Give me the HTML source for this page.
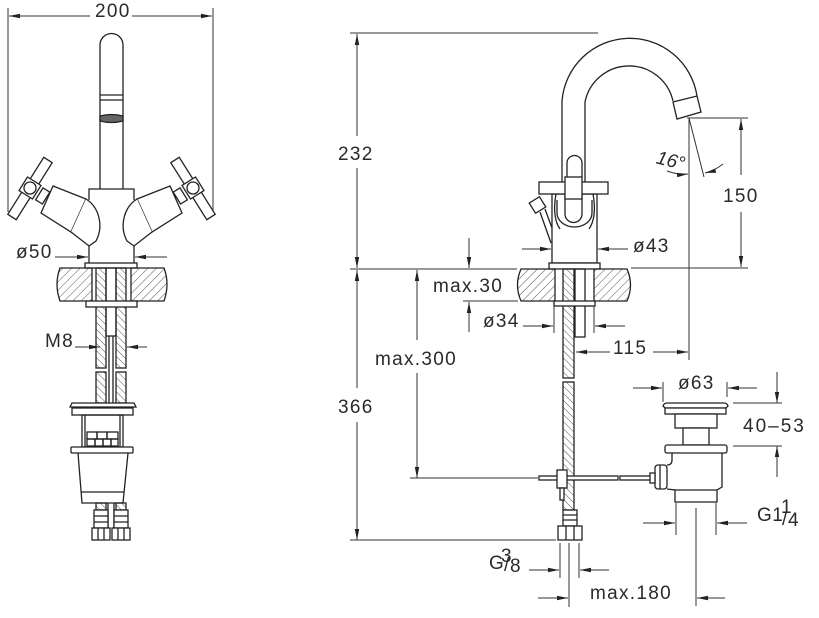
<!DOCTYPE html>
<html><head><meta charset="utf-8">
<style>
html,body{margin:0;padding:0;background:#fff;}
svg{display:block;}
text{font-family:"Liberation Sans",sans-serif;font-size:19px;fill:#2a2a2a;letter-spacing:1.3px;}
</style></head><body>
<svg width="819" height="618" viewBox="0 0 819 618" xmlns="http://www.w3.org/2000/svg">
<defs>
<marker id="a" markerWidth="11" markerHeight="5" refX="11" refY="2.5" orient="auto" markerUnits="userSpaceOnUse"><path d="M0,0.3 L11,2.5 L0,4.7 z" fill="#222"/></marker>
<pattern id="h" width="6" height="6" patternUnits="userSpaceOnUse" patternTransform="rotate(45)"><line x1="0" y1="0" x2="0" y2="6" stroke="#555" stroke-width="1"/></pattern>
<pattern id="h2" width="5" height="5" patternUnits="userSpaceOnUse" patternTransform="rotate(-45)"><line x1="0" y1="0" x2="0" y2="5" stroke="#555" stroke-width="1"/></pattern>
</defs>
<rect width="819" height="618" fill="#fff"/>

<!-- ================= LEFT FAUCET ================= -->
<g fill="none" stroke="#222" stroke-width="1.3">
  <path d="M100,189 L100,45 A11.5,11.5 0 0 1 123,45 L123,189"/>
  <line x1="100" y1="95" x2="123" y2="95"/>
  <line x1="100" y1="100" x2="123" y2="100"/>
  <path d="M100,116 Q111.5,113 123,116 L123,121 Q111.5,124 100,121 Z" fill="#666"/>
  <path d="M89,200 L89,189 L134,189 L134,200"/>
  <path d="M89,245 L89,263 M134,245 L134,263"/>
  <rect x="85" y="263" width="52" height="5" fill="#fff"/>
  <g id="lh">
    <polygon points="7.8,214.3 16.2,219.7 52.2,162.7 43.8,157.3" fill="#fff"/>
    <polygon points="32.5,199 41,185.5 27.5,177 19,190.5" fill="#fff"/>
    <circle cx="30" cy="188" r="6" fill="#fff"/>
    <polygon points="43,187.9 49.8,192.1 42.4,204 35.6,199.8" fill="#fff"/>
    <polygon points="53,186 86,199 71,232 41,213" fill="#fff"/>
    <path d="M86,199 C99,207 104,226 96,241 L89,246 L71,232" fill="#fff"/>
  </g>
  <use href="#lh" transform="translate(223,0) scale(-1,1)"/>

  <path d="M92,268 L60,268 Q54,284 60,301 L92,301 Z" fill="url(#h)"/>
  <path d="M131,268 L164,268 Q170,284 164,301 L131,301 Z" fill="url(#h)"/>
  <rect x="96" y="268" width="10" height="100" fill="url(#h2)"/>
  <rect x="96" y="372" width="10" height="31" fill="url(#h2)"/>
  <rect x="116" y="268" width="10" height="100" fill="url(#h2)"/>
  <rect x="116" y="372" width="10" height="31" fill="url(#h2)"/>
  <rect x="106" y="268" width="10" height="68"/>
  <path d="M109,336 L109,403 M113,336 L113,403"/>
  <rect x="86" y="301" width="51" height="6" fill="#fff"/>

  <path d="M70,407 L72,403 L134,403 L136,407 Z" fill="#fff"/>
  <rect x="72" y="408" width="61" height="7" fill="#fff"/>
  <rect x="82" y="415" width="41" height="32"/>
  <path d="M85,415 L85,447 M120,415 L120,447"/>
  <rect x="87" y="432" width="10" height="7"/><rect x="97" y="432" width="10" height="7"/><rect x="107" y="432" width="11" height="7"/>
  <rect x="87" y="439" width="8" height="7"/><rect x="95" y="439" width="8" height="7"/><rect x="103" y="439" width="8" height="7"/><rect x="111" y="439" width="7" height="7"/>
  <rect x="71" y="447" width="62" height="6" rx="1" fill="#fff"/>
  <path d="M78,453 L82,503 L123,503 L128,453"/>
  <line x1="81" y1="492" x2="124" y2="492"/>
  <rect x="96" y="503" width="10" height="7" fill="url(#h2)"/>
  <rect x="116" y="503" width="10" height="7" fill="url(#h2)"/>
  <path d="M108,503 L108,528 M114,503 L114,528"/>
  <rect x="94" y="510" width="14" height="18" fill="#fff"/>
  <rect x="114" y="510" width="14" height="18" fill="#fff"/>
  <path d="M94,516 L108,516 M94,522 L108,522 M114,516 L128,516 M114,522 L128,522"/>
  <rect x="92" y="528" width="18" height="12" fill="#fff"/>
  <rect x="112" y="528" width="18" height="12" fill="#fff"/>
  <path d="M98,528 L98,540 M104,528 L104,540 M118,528 L118,540 M124,528 L124,540"/>
</g>

<g fill="none" stroke="#333" stroke-width="1">
  <line x1="8" y1="8" x2="8" y2="212"/>
  <line x1="213" y1="8" x2="213" y2="210"/>
  <line x1="90" y1="16" x2="9" y2="16" marker-end="url(#a)"/>
  <line x1="132" y1="16" x2="212" y2="16" marker-end="url(#a)"/>
  <line x1="55" y1="257" x2="88" y2="257" marker-end="url(#a)"/>
  <line x1="167" y1="257" x2="135" y2="257" marker-end="url(#a)"/>
  <line x1="75" y1="347" x2="100" y2="347" marker-end="url(#a)"/>
  <line x1="147" y1="347" x2="127" y2="347" marker-end="url(#a)"/>
</g>
<text x="95" y="17">200</text>
<text x="16" y="258">ø50</text>
<text x="45" y="347">M8</text>

<!-- ================= RIGHT FAUCET ================= -->
<g fill="none" stroke="#222" stroke-width="1.3">
  <path d="M562,182 L562,101 A68,68 0 0 1 697,96"/>
  <path d="M585,182 L585,102 A45,45 0 0 1 673,101"/>
  <polygon points="673,102 697,96 701,112 677,119" fill="#fff"/>
  <rect x="552" y="194" width="45" height="69" fill="#fff"/>
  <path d="M556,194 C553,210 555,222 560,229 M593,194 C596,210 594,222 589,229"/>
  <path d="M557,200 L557,213 A17.5,14 0 0 0 592,213 L592,200"/>
  <path d="M565,194 L565,214 A8.5,8.5 0 0 0 582,214 L582,194"/>
  <rect x="539" y="182" width="69" height="12" fill="#fff"/>
  <path d="M567,177 L567,163 A7.5,7.5 0 0 1 582,163 L582,177" fill="#fff"/>
  <rect x="565" y="177" width="17" height="22" fill="#fff"/>
  <path d="M540,212 L551,243 M545,209 L552,228"/>
  <rect x="-6" y="-6" width="12" height="12" transform="translate(537.5,205) rotate(-32)" fill="#fff"/>
  <rect x="549" y="263" width="51" height="6" fill="#fff"/>

  <path d="M555,269 L521,269 Q514,285 521,301 L555,301 Z" fill="url(#h)"/>
  <path d="M594,269 L627,269 Q634,285 627,301 L594,301 Z" fill="url(#h)"/>
  <rect x="563" y="269" width="11" height="109" fill="url(#h2)"/>
  <rect x="563" y="382" width="11" height="128" fill="url(#h2)"/>
  <rect x="575" y="269" width="10" height="68"/>
  <rect x="554" y="301" width="41" height="5" fill="#fff"/>
  <rect x="539" y="476" width="79" height="4" fill="#fff"/>
  <rect x="620" y="476" width="33" height="4" fill="#fff"/>
  <rect x="557" y="470" width="10" height="18" fill="#fff"/>
  <rect x="560" y="488" width="4" height="12" fill="#fff"/>
  <rect x="563" y="510" width="14" height="16" fill="#fff"/>
  <path d="M563,515 L577,515 M563,520 L577,520"/>
  <rect x="558" y="526" width="24" height="14" fill="#fff"/>
  <path d="M566,526 L566,540 M574,526 L574,540"/>

  <path d="M663,406 Q664,403 667,403 L724,403 Q727,403 728,406 L726,408 L665,408 Z" fill="#fff"/>
  <rect x="665" y="408" width="61" height="6" fill="#fff"/>
  <rect x="675" y="414" width="42" height="14" fill="#fff"/>
  <rect x="683" y="428" width="26" height="17" fill="#fff"/>
  <rect x="665" y="445" width="62" height="8" rx="2" fill="#fff"/>
  <path d="M672,453 L672,460 Q672,465 667,465 M667,489 L675,490 L675,502 L717,502 L717,490 L722,487 L722,453"/>
  <line x1="675" y1="490" x2="717" y2="490"/>
  <rect x="655" y="465" width="12" height="24" rx="3" fill="#fff"/>
  <line x1="660" y1="465" x2="660" y2="489"/>
  <rect x="650" y="473" width="5" height="10" fill="#fff"/>
</g>

<g fill="none" stroke="#333" stroke-width="1">
  <line x1="350" y1="33" x2="598" y2="33"/>
  <line x1="350" y1="269" x2="517" y2="269"/>
  <line x1="631" y1="268" x2="748" y2="268"/>
  <line x1="350" y1="540" x2="556" y2="540"/>
  <line x1="410" y1="478" x2="538" y2="478"/>
  <line x1="357" y1="136" x2="357" y2="34" marker-end="url(#a)"/>
  <line x1="357" y1="168" x2="357" y2="268" marker-end="url(#a)"/>
  <line x1="357" y1="388" x2="357" y2="270" marker-end="url(#a)"/>
  <line x1="357" y1="422" x2="357" y2="540" marker-end="url(#a)"/>
  <line x1="417" y1="340" x2="417" y2="270" marker-end="url(#a)"/>
  <line x1="417" y1="373" x2="417" y2="478" marker-end="url(#a)"/>
  <line x1="469" y1="238" x2="469" y2="268" marker-end="url(#a)"/>
  <line x1="469" y1="332" x2="469" y2="302" marker-end="url(#a)"/>
  <line x1="463" y1="301" x2="518" y2="301"/>
  <line x1="522" y1="249" x2="551" y2="249" marker-end="url(#a)"/>
  <line x1="628" y1="249" x2="598" y2="249" marker-end="url(#a)"/>
  <line x1="554" y1="306" x2="554" y2="333"/>
  <line x1="594" y1="306" x2="594" y2="333"/>
  <line x1="523" y1="326" x2="553" y2="326" marker-end="url(#a)"/>
  <line x1="625" y1="326" x2="595" y2="326" marker-end="url(#a)"/>
  <line x1="689" y1="118" x2="689" y2="360"/>
  <line x1="610" y1="352" x2="576" y2="352" marker-end="url(#a)"/>
  <line x1="653" y1="352" x2="688" y2="352" marker-end="url(#a)"/>
  <line x1="687" y1="118" x2="748" y2="118"/>
  <line x1="741" y1="175" x2="741" y2="119" marker-end="url(#a)"/>
  <line x1="741" y1="212" x2="741" y2="267" marker-end="url(#a)"/>
  <line x1="689" y1="118" x2="704" y2="177"/>
  <path d="M667,171 Q678,175 688,174" marker-end="url(#a)"/>
  <path d="M723,164 Q714,171 705,173" marker-end="url(#a)"/>
  <line x1="663" y1="382" x2="663" y2="402"/>
  <line x1="727" y1="382" x2="727" y2="397"/>
  <line x1="633" y1="388" x2="662" y2="388" marker-end="url(#a)"/>
  <line x1="757" y1="388" x2="728" y2="388" marker-end="url(#a)"/>
  <line x1="733" y1="403" x2="782" y2="403"/>
  <line x1="733" y1="446" x2="782" y2="446"/>
  <line x1="777" y1="372" x2="777" y2="403" marker-end="url(#a)"/>
  <line x1="777" y1="477" x2="777" y2="446" marker-end="url(#a)"/>
  <line x1="676" y1="503" x2="676" y2="535"/>
  <line x1="716" y1="503" x2="716" y2="535"/>
  <line x1="643" y1="523" x2="675" y2="523" marker-end="url(#a)"/>
  <line x1="747" y1="523" x2="717" y2="523" marker-end="url(#a)"/>
  <line x1="696" y1="508" x2="696" y2="606"/>
  <line x1="560" y1="543" x2="560" y2="578"/>
  <line x1="579" y1="543" x2="579" y2="578"/>
  <line x1="569" y1="543" x2="569" y2="607"/>
  <line x1="529" y1="570" x2="559" y2="570" marker-end="url(#a)"/>
  <line x1="609" y1="570" x2="580" y2="570" marker-end="url(#a)"/>
  <line x1="538" y1="598" x2="568" y2="598" marker-end="url(#a)"/>
  <line x1="725" y1="598" x2="697" y2="598" marker-end="url(#a)"/>
</g>

<text x="338" y="160">232</text>
<text x="338" y="413">366</text>
<text x="375" y="365">max.300</text>
<text x="433" y="292">max.30</text>
<text x="483" y="327">ø34</text>
<text x="633" y="252">ø43</text>
<text x="613" y="354">115</text>
<text x="723" y="202">150</text>
<text x="657" y="167" font-style="italic" transform="rotate(14 672 158)" style="letter-spacing:0">16°</text>
<text x="678" y="389">ø63</text>
<text x="743" y="432" style="letter-spacing:2px">40–53</text>
<text x="590" y="599">max.180</text>
<text x="757" y="521" style="letter-spacing:0.5px">G1</text>
<text x="781" y="513" font-size="12" style="letter-spacing:0">1</text>
<text x="782" y="525" font-size="18" style="letter-spacing:0">/</text>
<text x="788" y="526" font-size="17" style="letter-spacing:0">4</text>
<text x="489" y="569" style="letter-spacing:0">G</text>
<text x="501" y="562" font-size="12" style="letter-spacing:0">3</text>
<text x="504" y="571" font-size="18" style="letter-spacing:0">/</text>
<text x="510" y="572" font-size="16" style="letter-spacing:0">8</text>
</svg>
</body></html>
